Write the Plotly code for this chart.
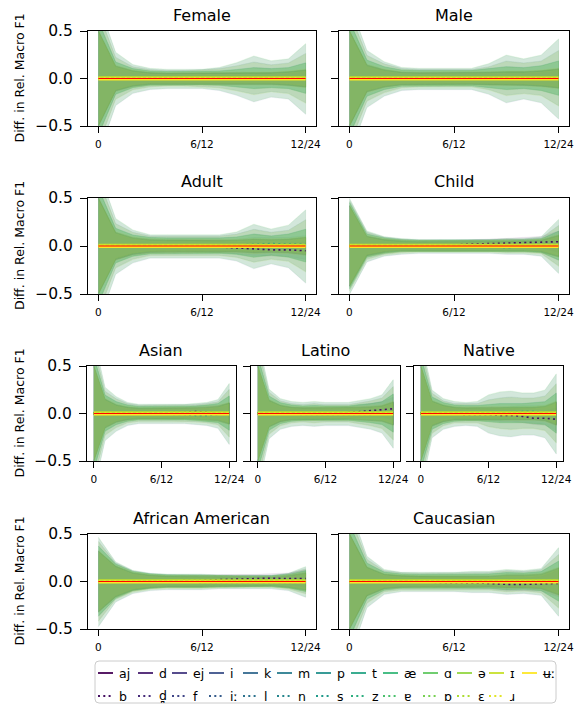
import plotly.graph_objects as go
from plotly.colors import sample_colorscale

# ---------------- data ----------------
PHONEMES = ["aj", "b", "d", "d̪", "ej", "f", "i", "iː", "k", "l", "m", "n", "p",
            "s", "t", "z", "æ", "ɐ", "ɑ", "ɒ", "ə", "ɛ", "ɪ", "ɹ", "ʉː"]
STEPS = list(range(13))
XTICK_VALS = [0, 6, 12]
XTICK_TEXT = ["0", "6/12", "12/24"]
YTICK_VALS = [-0.5, 0.0, 0.5]
YTICK_TEXT = ["−0.5", "0.0", "0.5"]
PANELS = ["Female", "Male", "Adult", "Child", "Asian", "Latino", "Native",
          "African American", "Caucasian"]

# which std-level band each phoneme belongs to (0 = narrowest, 3 = widest)
LEVEL = [0, 0, 0, 0, 2, 0, 3, 1, 0, 0, 0, 0, 1, 0, 1, 1, 3, 1, 2, 3, 1, 2, 0, 0, 0]
# typical mean offset of each phoneme around zero
OFFSET = [0.003, -0.004, 0.002, -0.006, 0.004, -0.003, -0.008, 0.005, 0.002, -0.002,
          0.006, -0.005, 0.003, -0.004, 0.007, 0.004, -0.003, 0.002, 0.004, -0.002,
          0.001, -0.003, 0.012, 0.003, -0.01]

# std bands per panel, levels L0..L3, one value per step
STD_FEMALE = [
    [0.50, 0.13, 0.08, 0.06, 0.055, 0.055, 0.055, 0.055, 0.06, 0.06, 0.06, 0.07, 0.09],
    [0.60, 0.17, 0.10, 0.075, 0.07, 0.07, 0.07, 0.075, 0.09, 0.11, 0.10, 0.11, 0.16],
    [0.70, 0.22, 0.12, 0.09, 0.08, 0.08, 0.09, 0.10, 0.13, 0.17, 0.14, 0.16, 0.26],
    [0.80, 0.28, 0.15, 0.11, 0.10, 0.10, 0.10, 0.12, 0.17, 0.24, 0.19, 0.21, 0.37]]
STD_MALE = [
    [0.50, 0.14, 0.09, 0.065, 0.06, 0.06, 0.06, 0.06, 0.065, 0.07, 0.07, 0.08, 0.10],
    [0.60, 0.19, 0.12, 0.085, 0.08, 0.08, 0.08, 0.08, 0.10, 0.12, 0.11, 0.13, 0.18],
    [0.70, 0.24, 0.15, 0.10, 0.09, 0.09, 0.09, 0.09, 0.12, 0.18, 0.16, 0.18, 0.29],
    [0.80, 0.30, 0.18, 0.12, 0.11, 0.11, 0.11, 0.11, 0.16, 0.25, 0.21, 0.25, 0.42]]
STD_ADULT = [
    [0.50, 0.14, 0.085, 0.065, 0.06, 0.06, 0.06, 0.06, 0.06, 0.07, 0.065, 0.07, 0.09],
    [0.60, 0.18, 0.11, 0.085, 0.08, 0.08, 0.08, 0.08, 0.09, 0.12, 0.10, 0.12, 0.17],
    [0.70, 0.23, 0.14, 0.10, 0.10, 0.10, 0.10, 0.10, 0.12, 0.17, 0.14, 0.16, 0.27],
    [0.80, 0.29, 0.17, 0.12, 0.12, 0.12, 0.12, 0.12, 0.15, 0.23, 0.18, 0.22, 0.38]]
STD_CHILD = [
    [0.42, 0.10, 0.065, 0.05, 0.045, 0.045, 0.045, 0.045, 0.045, 0.05, 0.05, 0.06, 0.11],
    [0.45, 0.12, 0.08, 0.06, 0.055, 0.055, 0.055, 0.055, 0.055, 0.06, 0.06, 0.07, 0.15],
    [0.47, 0.14, 0.09, 0.07, 0.06, 0.06, 0.06, 0.06, 0.06, 0.07, 0.07, 0.08, 0.21],
    [0.50, 0.16, 0.10, 0.08, 0.07, 0.07, 0.07, 0.07, 0.07, 0.08, 0.08, 0.10, 0.28]]
STD_ASIAN = [
    [0.50, 0.15, 0.09, 0.065, 0.055, 0.055, 0.055, 0.055, 0.055, 0.06, 0.065, 0.075, 0.11],
    [0.60, 0.19, 0.12, 0.085, 0.07, 0.07, 0.07, 0.07, 0.07, 0.075, 0.085, 0.10, 0.18],
    [0.70, 0.23, 0.15, 0.10, 0.085, 0.085, 0.085, 0.085, 0.085, 0.09, 0.10, 0.12, 0.25],
    [0.80, 0.28, 0.18, 0.12, 0.10, 0.10, 0.10, 0.10, 0.10, 0.11, 0.12, 0.15, 0.32]]
STD_LATINO = [
    [0.50, 0.14, 0.085, 0.065, 0.06, 0.06, 0.06, 0.06, 0.06, 0.065, 0.07, 0.08, 0.12],
    [0.60, 0.18, 0.11, 0.085, 0.075, 0.08, 0.075, 0.075, 0.075, 0.09, 0.10, 0.12, 0.20],
    [0.70, 0.22, 0.13, 0.10, 0.09, 0.10, 0.09, 0.09, 0.09, 0.11, 0.13, 0.16, 0.28],
    [0.80, 0.26, 0.16, 0.13, 0.12, 0.13, 0.12, 0.12, 0.12, 0.14, 0.16, 0.20, 0.36]]
STD_NATIVE = [
    [0.50, 0.13, 0.085, 0.065, 0.06, 0.06, 0.06, 0.065, 0.065, 0.065, 0.065, 0.075, 0.12],
    [0.60, 0.17, 0.11, 0.085, 0.08, 0.08, 0.09, 0.10, 0.10, 0.10, 0.11, 0.12, 0.21],
    [0.70, 0.21, 0.13, 0.10, 0.10, 0.10, 0.14, 0.16, 0.17, 0.16, 0.16, 0.18, 0.31],
    [0.80, 0.25, 0.16, 0.13, 0.12, 0.13, 0.20, 0.23, 0.24, 0.22, 0.22, 0.25, 0.42]]
STD_AFRICAN_AMERICAN = [
    [0.32, 0.16, 0.09, 0.065, 0.055, 0.055, 0.055, 0.05, 0.05, 0.045, 0.045, 0.06, 0.09],
    [0.37, 0.18, 0.10, 0.075, 0.065, 0.065, 0.065, 0.06, 0.055, 0.055, 0.055, 0.07, 0.11],
    [0.42, 0.19, 0.11, 0.08, 0.07, 0.07, 0.07, 0.065, 0.06, 0.06, 0.06, 0.08, 0.13],
    [0.47, 0.21, 0.12, 0.09, 0.08, 0.08, 0.08, 0.07, 0.07, 0.07, 0.07, 0.09, 0.16]]
STD_CAUCASIAN = [
    [0.50, 0.15, 0.075, 0.06, 0.055, 0.055, 0.055, 0.055, 0.055, 0.065, 0.065, 0.075, 0.14],
    [0.60, 0.19, 0.095, 0.075, 0.07, 0.07, 0.07, 0.075, 0.075, 0.09, 0.085, 0.10, 0.21],
    [0.70, 0.23, 0.11, 0.09, 0.085, 0.085, 0.085, 0.09, 0.09, 0.11, 0.10, 0.12, 0.28],
    [0.80, 0.27, 0.13, 0.10, 0.10, 0.10, 0.10, 0.11, 0.11, 0.13, 0.12, 0.14, 0.36]]

# mean curves of the series that visibly leave zero
MEAN_B = {
    "Female": [0, 0, 0, 0, 0, 0, 0, 0, 0, 0, 0, 0, 0],
    "Male": [0, 0, 0, 0, 0, 0, 0, 0, 0, 0, 0, 0, 0],
    "Adult": [0, -0.005, -0.01, -0.005, 0, 0, 0, -0.01, -0.02, -0.03, -0.04, -0.04, -0.05],
    "Child": [0, 0, 0.005, 0.01, 0.01, 0.01, 0.01, 0.02, 0.025, 0.03, 0.04, 0.04, 0.045],
    "Asian": [0, 0, 0, 0, 0, 0, 0.005, 0.01, 0.01, 0.02, 0.015, 0.01, 0.0],
    "Latino": [0, 0, 0, 0, 0, 0, 0, 0, 0.01, 0.02, 0.035, 0.045, 0.05],
    "Native": [0, 0, 0, -0.005, -0.01, -0.01, -0.01, -0.02, -0.02, -0.03, -0.05, -0.05, -0.06],
    "African American": [0, 0, 0, 0, 0.005, 0.01, 0.01, 0.02, 0.025, 0.03, 0.035, 0.03, 0.03],
    "Caucasian": [0, 0, 0, 0, 0, -0.01, -0.01, -0.015, -0.02, -0.03, -0.03, -0.025, -0.02],
}
MEAN_S = {
    "Female": [0, 0.005, 0.005, 0, -0.005, -0.005, 0, 0, 0.005, 0.005, 0, 0, 0],
    "Male": [0, 0.01, 0.005, 0, -0.005, -0.005, 0, 0, 0, 0.005, 0, 0, 0],
    "Adult": [0, 0, 0, 0.01, 0.01, 0.005, -0.01, -0.01, 0.01, 0.02, 0.025, 0.02, 0.02],
    "Child": [0, 0, 0, 0, -0.005, -0.01, -0.01, -0.005, -0.01, -0.015, -0.01, -0.01, 0],
    "Asian": [0, 0, 0, 0.005, 0.01, 0.01, 0, -0.01, -0.01, -0.02, -0.02, -0.01, 0],
    "Latino": [0, 0, 0, -0.005, -0.01, -0.01, -0.01, -0.01, -0.01, -0.01, -0.01, 0, 0],
    "Native": [0, 0, 0, 0, -0.005, -0.01, -0.01, -0.01, 0.01, 0.02, 0.02, 0.01, 0.01],
    "African American": [0, 0, 0, 0, 0, -0.005, -0.01, -0.01, -0.01, -0.01, -0.015, -0.01, -0.01],
    "Caucasian": [0, 0, 0, 0, 0, 0, -0.005, -0.01, -0.01, 0.01, 0.01, 0.01, 0.01],
}
STD = {"Female": STD_FEMALE, "Male": STD_MALE, "Adult": STD_ADULT, "Child": STD_CHILD,
       "Asian": STD_ASIAN, "Latino": STD_LATINO, "Native": STD_NATIVE,
       "African American": STD_AFRICAN_AMERICAN, "Caucasian": STD_CAUCASIAN}

# ---------------- layout geometry (window pixels) ----------------
W, H = 580, 705
# panel: (left, right, top, bottom, show y tick labels)
BOXES = {
    "Female": (88, 316, 31, 126, True),
    "Male": (339, 569, 31, 126, False),
    "Adult": (88, 316, 198, 294, True),
    "Child": (339, 569, 198, 294, False),
    "Asian": (87, 236, 366, 461, True),
    "Latino": (251, 400, 366, 461, False),
    "Native": (414, 563, 366, 461, False),
    "African American": (88, 316, 534, 629, True),
    "Caucasian": (339, 569, 534, 629, False),
}
TITLE_Y = {31: 15, 198: 182, 366: 350, 534: 518}
DOT = "2px,3.3px"


def px(x):
    return x / W


def py(y):
    return 1 - y / H


colors = sample_colorscale("Viridis", [i / 24 for i in range(25)], colortype="tuple")


def rgb(c, a=None):
    r, g, b = [int(round(v * 255)) if v <= 1 else int(round(v)) for v in c]
    if a is None:
        return f"rgb({r},{g},{b})"
    return f"rgba({r},{g},{b},{a})"


fig = go.Figure()
layout = dict(width=W, height=H, margin=dict(l=0, r=0, t=0, b=0, pad=0, autoexpand=False),
              template="none",
              paper_bgcolor="white", plot_bgcolor="white", showlegend=False,
              font=dict(family="DejaVu Sans", color="black"))
annotations = []
shapes = []

for k, name in enumerate(PANELS):
    l, r, t, b, showy = BOXES[name]
    sfx = "" if k == 0 else str(k + 1)
    xa, ya = "x" + sfx, "y" + sfx
    layout["xaxis" + sfx] = dict(
        domain=[px(l), px(r)], range=[-0.6, 12.6], anchor=ya, automargin=False,
        tickvals=XTICK_VALS, ticktext=XTICK_TEXT, ticks="outside", ticklen=6,
        tickwidth=1, tickcolor="black", showline=True, linecolor="black", linewidth=1,
        mirror=True, showgrid=False, zeroline=False, tickfont=dict(size=10.5),
        ticklabelstandoff=2)
    layout["yaxis" + sfx] = dict(
        domain=[py(b), py(t)], range=[-0.5, 0.5], anchor=xa, automargin=False,
        tickvals=YTICK_VALS, ticktext=YTICK_TEXT, ticks="outside", ticklen=7,
        tickwidth=1, tickcolor="black", showline=True, linecolor="black", linewidth=1,
        mirror=True, showgrid=False, zeroline=False, showticklabels=showy,
        tickfont=dict(size=15.5), ticklabelstandoff=4)
    means = []
    for j, ph in enumerate(PHONEMES):
        if ph == "b":
            mean = MEAN_B[name]
        elif ph == "s":
            mean = MEAN_S[name]
        else:
            mean = [OFFSET[j]] * len(STEPS)
        means.append(mean)
        std = STD[name][LEVEL[j]]
        upper = [m + s for m, s in zip(mean, std)]
        lower = [m - s for m, s in zip(mean, std)]
        fig.add_trace(go.Scatter(
            x=STEPS + STEPS[::-1], y=upper + lower[::-1], mode="lines", fill="toself",
            xaxis=xa, yaxis=ya, hoverinfo="skip", fillcolor=rgb(colors[j], 0.09),
            line=dict(color=rgb(colors[j], 0.09), width=0.6)))
    for j, ph in enumerate(PHONEMES):
        fig.add_trace(go.Scatter(
            x=STEPS, y=means[j], mode="lines", xaxis=xa, yaxis=ya, hoverinfo="skip",
            line=dict(color=rgb(colors[j]), width=2.2 if j >= 22 else 1.6,
                      dash="solid" if j % 2 == 0 else DOT)))
    fig.add_trace(go.Scatter(
        x=STEPS, y=[0] * len(STEPS), mode="lines", xaxis=xa, yaxis=ya,
        hoverinfo="skip", line=dict(color="red", width=1.2)))
    annotations.append(dict(text=name, x=px((l + r) / 2), y=py(TITLE_Y[t]), xref="paper",
                            yref="paper", showarrow=False, xanchor="center",
                            yanchor="middle", font=dict(size=16)))
    if showy:
        annotations.append(dict(text="Diff. in Rel. Macro F1", x=px(19),
                                y=py((t + b) / 2), xref="paper", yref="paper",
                                showarrow=False, textangle=-90, xanchor="center",
                                yanchor="middle", font=dict(size=12.5)))

# ---------------- legend (drawn manually) ----------------
LEG_L, LEG_R, LEG_T, LEG_B = 95, 556, 661, 703
rad = 4
pathd = (f"M {px(LEG_L + rad)},{py(LEG_T)} L {px(LEG_R - rad)},{py(LEG_T)} "
         f"Q {px(LEG_R)},{py(LEG_T)} {px(LEG_R)},{py(LEG_T + rad)} "
         f"L {px(LEG_R)},{py(LEG_B - rad)} Q {px(LEG_R)},{py(LEG_B)} {px(LEG_R - rad)},{py(LEG_B)} "
         f"L {px(LEG_L + rad)},{py(LEG_B)} Q {px(LEG_L)},{py(LEG_B)} {px(LEG_L)},{py(LEG_B - rad)} "
         f"L {px(LEG_L)},{py(LEG_T + rad)} Q {px(LEG_L)},{py(LEG_T)} {px(LEG_L + rad)},{py(LEG_T)} Z")
shapes.append(dict(type="path", path=pathd, xref="paper", yref="paper",
                   line=dict(color="#cccccc", width=1), fillcolor="rgba(255,255,255,0.8)"))
COL_X = [98, 138, 172, 209, 243, 277, 316, 351, 383, 423, 457, 489, 522]
ROW_Y = [673, 696]
for j, ph in enumerate(PHONEMES):
    col, row = j // 2, j % 2
    x0 = COL_X[col]
    yy = ROW_Y[row]
    shapes.append(dict(type="line", xref="paper", yref="paper",
                       x0=px(x0), x1=px(x0 + 15), y0=py(yy), y1=py(yy),
                       line=dict(color=rgb(colors[j]), width=1.8,
                                 dash="solid" if row == 0 else DOT)))
    annotations.append(dict(text=ph, x=px(x0 + 19), y=py(yy), xref="paper", yref="paper",
                            showarrow=False, xanchor="left", yanchor="middle",
                            font=dict(size=12.5)))

layout["annotations"] = annotations
layout["shapes"] = shapes
fig.update_layout(**layout)
fig.write_html("out.html",
               config={"displayModeBar": False, "staticPlot": True},
               post_script="document.body.style.margin='0px';document.body.style.overflow='hidden';")
